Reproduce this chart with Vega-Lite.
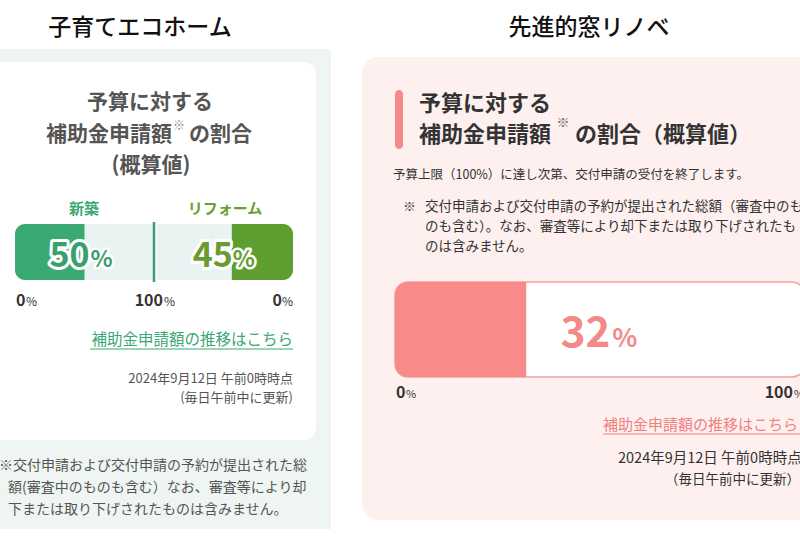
{
  "$schema": "https://vega.github.io/schema/vega-lite/v6.json",
  "width": 800,
  "height": 549,
  "padding": 0,
  "autosize": {"type": "none"},
  "background": "white",
  "config": {"view": {"stroke": null}, "font": "Noto Sans CJK JP", "text": {"font": "Noto Sans CJK JP"}},
  "datasets": {
    "budget": [
      {"program": "子育てエコホーム", "category": "新築", "pct": 50},
      {"program": "子育てエコホーム", "category": "リフォーム", "pct": 45},
      {"program": "先進的窓リノベ", "category": "先進的窓リノベ", "pct": 32}
    ],
    "canvas": [{"layer": "annotations"}]
  },
  "resolve": {"scale": {"x": "independent"}},
  "layer": [
    {
      "data": {"name": "canvas"},
      "layer": [
        {"mark": {"type": "rect", "fill": "#eef5f2"},
         "encoding": {"x": {"datum": 0, "type": "quantitative", "scale": {"domain": [0, 800], "range": [0, 800]}, "axis": null}, "x2": {"datum": 331},
                      "y": {"datum": 49, "type": "quantitative", "scale": {"domain": [0, 549], "range": [0, 549]}, "axis": null}, "y2": {"datum": 529}}},
        {"mark": {"type": "rect", "fill": "white", "cornerRadius": 12},
         "encoding": {"x": {"datum": -14, "type": "quantitative", "scale": {"domain": [0, 800], "range": [0, 800]}, "axis": null}, "x2": {"datum": 316},
                      "y": {"datum": 62, "type": "quantitative", "scale": {"domain": [0, 549], "range": [0, 549]}, "axis": null}, "y2": {"datum": 440}}},
        {"mark": {"type": "rect", "fill": "#fdf0ef", "cornerRadius": 16},
         "encoding": {"x": {"datum": 362, "type": "quantitative", "scale": {"domain": [0, 800], "range": [0, 800]}, "axis": null}, "x2": {"datum": 840},
                      "y": {"datum": 57, "type": "quantitative", "scale": {"domain": [0, 549], "range": [0, 549]}, "axis": null}, "y2": {"datum": 520}}},
        {"mark": {"type": "rect", "fill": "#f58a8a", "cornerRadius": 4},
         "encoding": {"x": {"datum": 395, "type": "quantitative", "scale": {"domain": [0, 800], "range": [0, 800]}, "axis": null}, "x2": {"datum": 403},
                      "y": {"datum": 90, "type": "quantitative", "scale": {"domain": [0, 549], "range": [0, 549]}, "axis": null}, "y2": {"datum": 149}}},
        {"mark": {"type": "text", "fontSize": 23, "fontWeight": 500, "color": "#111", "align": "center", "baseline": "middle"},
         "encoding": {"x": {"datum": 140, "type": "quantitative", "scale": {"domain": [0, 800], "range": [0, 800]}, "axis": null},
                      "y": {"datum": 28, "type": "quantitative", "scale": {"domain": [0, 549], "range": [0, 549]}, "axis": null}, "text": {"value": "子育てエコホーム"}}},
        {"mark": {"type": "text", "fontSize": 23, "fontWeight": 500, "color": "#111", "align": "center", "baseline": "middle"},
         "encoding": {"x": {"datum": 589, "type": "quantitative", "scale": {"domain": [0, 800], "range": [0, 800]}, "axis": null},
                      "y": {"datum": 28, "type": "quantitative", "scale": {"domain": [0, 549], "range": [0, 549]}, "axis": null}, "text": {"value": "先進的窓リノベ"}}},
        {"mark": {"type": "text", "fontSize": 21, "fontWeight": "bold", "color": "#555", "align": "center", "baseline": "middle"},
         "encoding": {"x": {"datum": 150, "type": "quantitative", "scale": {"domain": [0, 800], "range": [0, 800]}, "axis": null},
                      "y": {"datum": 103, "type": "quantitative", "scale": {"domain": [0, 549], "range": [0, 549]}, "axis": null}, "text": {"value": "予算に対する"}}},
        {"mark": {"type": "text", "fontSize": 21, "fontWeight": "bold", "color": "#555", "align": "right", "baseline": "middle"},
         "encoding": {"x": {"datum": 172, "type": "quantitative", "scale": {"domain": [0, 800], "range": [0, 800]}, "axis": null},
                      "y": {"datum": 135, "type": "quantitative", "scale": {"domain": [0, 549], "range": [0, 549]}, "axis": null}, "text": {"value": "補助金申請額"}}},
        {"mark": {"type": "text", "fontSize": 12, "color": "#888", "align": "center", "baseline": "middle"},
         "encoding": {"x": {"datum": 179, "type": "quantitative", "scale": {"domain": [0, 800], "range": [0, 800]}, "axis": null},
                      "y": {"datum": 126, "type": "quantitative", "scale": {"domain": [0, 549], "range": [0, 549]}, "axis": null}, "text": {"value": "※"}}},
        {"mark": {"type": "text", "fontSize": 21, "fontWeight": "bold", "color": "#555", "align": "left", "baseline": "middle"},
         "encoding": {"x": {"datum": 189, "type": "quantitative", "scale": {"domain": [0, 800], "range": [0, 800]}, "axis": null},
                      "y": {"datum": 135, "type": "quantitative", "scale": {"domain": [0, 549], "range": [0, 549]}, "axis": null}, "text": {"value": "の割合"}}},
        {"mark": {"type": "text", "fontSize": 21, "fontWeight": "bold", "color": "#555", "align": "center", "baseline": "middle"},
         "encoding": {"x": {"datum": 151, "type": "quantitative", "scale": {"domain": [0, 800], "range": [0, 800]}, "axis": null},
                      "y": {"datum": 166, "type": "quantitative", "scale": {"domain": [0, 549], "range": [0, 549]}, "axis": null}, "text": {"value": "(概算値)"}}},
        {"mark": {"type": "text", "fontSize": 15, "fontWeight": "bold", "color": "#3aa872", "align": "center", "baseline": "middle"},
         "encoding": {"x": {"datum": 84, "type": "quantitative", "scale": {"domain": [0, 800], "range": [0, 800]}, "axis": null},
                      "y": {"datum": 209, "type": "quantitative", "scale": {"domain": [0, 549], "range": [0, 549]}, "axis": null}, "text": {"value": "新築"}}},
        {"mark": {"type": "text", "fontSize": 15, "fontWeight": "bold", "color": "#6a9e32", "align": "center", "baseline": "middle"},
         "encoding": {"x": {"datum": 225, "type": "quantitative", "scale": {"domain": [0, 800], "range": [0, 800]}, "axis": null},
                      "y": {"datum": 209, "type": "quantitative", "scale": {"domain": [0, 549], "range": [0, 549]}, "axis": null}, "text": {"value": "リフォーム"}}},
        {"mark": {"type": "text", "fontSize": 15.5, "color": "#3aa872", "align": "right", "baseline": "middle"},
         "encoding": {"x": {"datum": 293, "type": "quantitative", "scale": {"domain": [0, 800], "range": [0, 800]}, "axis": null},
                      "y": {"datum": 340, "type": "quantitative", "scale": {"domain": [0, 549], "range": [0, 549]}, "axis": null}, "text": {"value": "補助金申請額の推移はこちら"}}},
        {"mark": {"type": "rule", "color": "#3aa872", "strokeWidth": 1},
         "encoding": {"x": {"datum": 90, "type": "quantitative", "scale": {"domain": [0, 800], "range": [0, 800]}, "axis": null}, "x2": {"datum": 293},
                      "y": {"datum": 349, "type": "quantitative", "scale": {"domain": [0, 549], "range": [0, 549]}, "axis": null}}},
        {"mark": {"type": "text", "fontSize": 13, "color": "#555", "align": "right", "baseline": "middle"},
         "encoding": {"x": {"datum": 293, "type": "quantitative", "scale": {"domain": [0, 800], "range": [0, 800]}, "axis": null},
                      "y": {"datum": 379, "type": "quantitative", "scale": {"domain": [0, 549], "range": [0, 549]}, "axis": null}, "text": {"value": "2024年9月12日 午前0時時点"}}},
        {"mark": {"type": "text", "fontSize": 13, "color": "#555", "align": "right", "baseline": "middle"},
         "encoding": {"x": {"datum": 293, "type": "quantitative", "scale": {"domain": [0, 800], "range": [0, 800]}, "axis": null},
                      "y": {"datum": 398, "type": "quantitative", "scale": {"domain": [0, 549], "range": [0, 549]}, "axis": null}, "text": {"value": "(毎日午前中に更新)"}}},
        {"mark": {"type": "text", "fontSize": 14, "color": "#555", "align": "left", "baseline": "middle"},
         "encoding": {"x": {"datum": -1, "type": "quantitative", "scale": {"domain": [0, 800], "range": [0, 800]}, "axis": null},
                      "y": {"datum": 466, "type": "quantitative", "scale": {"domain": [0, 549], "range": [0, 549]}, "axis": null}, "text": {"value": "※交付申請および交付申請の予約が提出された総"}}},
        {"mark": {"type": "text", "fontSize": 14, "color": "#555", "align": "left", "baseline": "middle"},
         "encoding": {"x": {"datum": 8, "type": "quantitative", "scale": {"domain": [0, 800], "range": [0, 800]}, "axis": null},
                      "y": {"datum": 488, "type": "quantitative", "scale": {"domain": [0, 549], "range": [0, 549]}, "axis": null}, "text": {"value": "額(審査中のものも含む）なお、審査等により却"}}},
        {"mark": {"type": "text", "fontSize": 14, "color": "#555", "align": "left", "baseline": "middle"},
         "encoding": {"x": {"datum": 8, "type": "quantitative", "scale": {"domain": [0, 800], "range": [0, 800]}, "axis": null},
                      "y": {"datum": 510, "type": "quantitative", "scale": {"domain": [0, 549], "range": [0, 549]}, "axis": null}, "text": {"value": "下または取り下げされたものは含みません。"}}},
        {"mark": {"type": "text", "fontSize": 22, "fontWeight": "bold", "color": "#333", "align": "left", "baseline": "middle"},
         "encoding": {"x": {"datum": 419, "type": "quantitative", "scale": {"domain": [0, 800], "range": [0, 800]}, "axis": null},
                      "y": {"datum": 104, "type": "quantitative", "scale": {"domain": [0, 549], "range": [0, 549]}, "axis": null}, "text": {"value": "予算に対する"}}},
        {"mark": {"type": "text", "fontSize": 22, "fontWeight": "bold", "color": "#333", "align": "left", "baseline": "middle"},
         "encoding": {"x": {"datum": 419, "type": "quantitative", "scale": {"domain": [0, 800], "range": [0, 800]}, "axis": null},
                      "y": {"datum": 135, "type": "quantitative", "scale": {"domain": [0, 549], "range": [0, 549]}, "axis": null}, "text": {"value": "補助金申請額"}}},
        {"mark": {"type": "text", "fontSize": 13, "color": "#666", "align": "center", "baseline": "middle"},
         "encoding": {"x": {"datum": 563, "type": "quantitative", "scale": {"domain": [0, 800], "range": [0, 800]}, "axis": null},
                      "y": {"datum": 123, "type": "quantitative", "scale": {"domain": [0, 549], "range": [0, 549]}, "axis": null}, "text": {"value": "※"}}},
        {"mark": {"type": "text", "fontSize": 22, "fontWeight": "bold", "color": "#333", "align": "left", "baseline": "middle"},
         "encoding": {"x": {"datum": 575, "type": "quantitative", "scale": {"domain": [0, 800], "range": [0, 800]}, "axis": null},
                      "y": {"datum": 135, "type": "quantitative", "scale": {"domain": [0, 549], "range": [0, 549]}, "axis": null}, "text": {"value": "の割合（概算値）"}}},
        {"mark": {"type": "text", "fontSize": 12.5, "color": "#333", "align": "left", "baseline": "middle"},
         "encoding": {"x": {"datum": 393, "type": "quantitative", "scale": {"domain": [0, 800], "range": [0, 800]}, "axis": null},
                      "y": {"datum": 175, "type": "quantitative", "scale": {"domain": [0, 549], "range": [0, 549]}, "axis": null}, "text": {"value": "予算上限（100%）に達し次第、交付申請の受付を終了します。"}}},
        {"mark": {"type": "text", "fontSize": 13, "color": "#444", "align": "left", "baseline": "middle"},
         "encoding": {"x": {"datum": 403, "type": "quantitative", "scale": {"domain": [0, 800], "range": [0, 800]}, "axis": null},
                      "y": {"datum": 207, "type": "quantitative", "scale": {"domain": [0, 549], "range": [0, 549]}, "axis": null}, "text": {"value": "※"}}},
        {"mark": {"type": "text", "fontSize": 13.5, "color": "#333", "align": "left", "baseline": "middle"},
         "encoding": {"x": {"datum": 425, "type": "quantitative", "scale": {"domain": [0, 800], "range": [0, 800]}, "axis": null},
                      "y": {"datum": 207, "type": "quantitative", "scale": {"domain": [0, 549], "range": [0, 549]}, "axis": null}, "text": {"value": "交付申請および交付申請の予約が提出された総額（審査中のも"}}},
        {"mark": {"type": "text", "fontSize": 13.5, "color": "#333", "align": "left", "baseline": "middle"},
         "encoding": {"x": {"datum": 425, "type": "quantitative", "scale": {"domain": [0, 800], "range": [0, 800]}, "axis": null},
                      "y": {"datum": 227, "type": "quantitative", "scale": {"domain": [0, 549], "range": [0, 549]}, "axis": null}, "text": {"value": "のも含む）。なお、審査等により却下または取り下げされたも"}}},
        {"mark": {"type": "text", "fontSize": 13.5, "color": "#333", "align": "left", "baseline": "middle"},
         "encoding": {"x": {"datum": 425, "type": "quantitative", "scale": {"domain": [0, 800], "range": [0, 800]}, "axis": null},
                      "y": {"datum": 247, "type": "quantitative", "scale": {"domain": [0, 549], "range": [0, 549]}, "axis": null}, "text": {"value": "のは含みません。"}}},
        {"mark": {"type": "text", "fontSize": 15, "color": "#f08080", "align": "left", "baseline": "middle"},
         "encoding": {"x": {"datum": 603, "type": "quantitative", "scale": {"domain": [0, 800], "range": [0, 800]}, "axis": null},
                      "y": {"datum": 425, "type": "quantitative", "scale": {"domain": [0, 549], "range": [0, 549]}, "axis": null}, "text": {"value": "補助金申請額の推移はこちら"}}},
        {"mark": {"type": "rule", "color": "#f08080", "strokeWidth": 1},
         "encoding": {"x": {"datum": 603, "type": "quantitative", "scale": {"domain": [0, 800], "range": [0, 800]}, "axis": null}, "x2": {"datum": 820},
                      "y": {"datum": 434, "type": "quantitative", "scale": {"domain": [0, 549], "range": [0, 549]}, "axis": null}}},
        {"mark": {"type": "text", "fontSize": 14.5, "color": "#333", "align": "left", "baseline": "middle"},
         "encoding": {"x": {"datum": 618, "type": "quantitative", "scale": {"domain": [0, 800], "range": [0, 800]}, "axis": null},
                      "y": {"datum": 459, "type": "quantitative", "scale": {"domain": [0, 549], "range": [0, 549]}, "axis": null}, "text": {"value": "2024年9月12日 午前0時時点"}}},
        {"mark": {"type": "text", "fontSize": 13.5, "color": "#333", "align": "right", "baseline": "middle"},
         "encoding": {"x": {"datum": 800, "type": "quantitative", "scale": {"domain": [0, 800], "range": [0, 800]}, "axis": null},
                      "y": {"datum": 480, "type": "quantitative", "scale": {"domain": [0, 549], "range": [0, 549]}, "axis": null}, "text": {"value": "（毎日午前中に更新）"}}}
      ]
    },
    {
      "data": {"name": "budget"},
      "transform": [{"filter": "datum.category === '新築'"}],
      "layer": [
        {"mark": {"type": "rect", "fill": "#e9f4f2", "cornerRadiusTopLeft": 10, "cornerRadiusBottomLeft": 10},
         "encoding": {"x": {"datum": 0, "type": "quantitative", "scale": {"domain": [0, 100], "range": [15, 154]}, "axis": null}, "x2": {"datum": 100},
                      "y": {"datum": 224, "type": "quantitative", "scale": {"domain": [0, 549], "range": [0, 549]}, "axis": null}, "y2": {"datum": 280}}},
        {"mark": {"type": "rect", "fill": "#3aaa72", "cornerRadiusTopLeft": 10, "cornerRadiusBottomLeft": 10},
         "encoding": {"x": {"field": "pct", "type": "quantitative", "scale": {"domain": [0, 100], "range": [15, 154]}, "axis": null}, "x2": {"datum": 0},
                      "y": {"datum": 224, "type": "quantitative", "scale": {"domain": [0, 549], "range": [0, 549]}, "axis": null}, "y2": {"datum": 280}}},
        {"mark": {"type": "rule", "color": "#3a9e72", "strokeWidth": 2.5},
         "encoding": {"x": {"datum": 100, "type": "quantitative", "scale": {"domain": [0, 100], "range": [15, 154]}, "axis": null},
                      "y": {"datum": 222, "type": "quantitative", "scale": {"domain": [0, 549], "range": [0, 549]}, "axis": null}, "y2": {"datum": 282}}},
        {"mark": {"type": "text", "fontSize": 34, "fontWeight": "bold", "color": "white", "stroke": "white", "strokeWidth": 6, "strokeJoin": "round", "align": "right", "baseline": "alphabetic", "dx": 5},
         "encoding": {"x": {"field": "pct", "type": "quantitative", "scale": {"domain": [0, 100], "range": [15, 154]}, "axis": null},
                      "y": {"datum": 267, "type": "quantitative", "scale": {"domain": [0, 549], "range": [0, 549]}, "axis": null}, "text": {"field": "pct", "type": "quantitative"}}},
        {"mark": {"type": "text", "fontSize": 34, "fontWeight": "bold", "color": "#3a9e6e", "align": "right", "baseline": "alphabetic", "dx": 5},
         "encoding": {"x": {"field": "pct", "type": "quantitative", "scale": {"domain": [0, 100], "range": [15, 154]}, "axis": null},
                      "y": {"datum": 267, "type": "quantitative", "scale": {"domain": [0, 549], "range": [0, 549]}, "axis": null}, "text": {"field": "pct", "type": "quantitative"}}},
        {"mark": {"type": "text", "fontSize": 23, "fontWeight": "bold", "color": "white", "stroke": "white", "strokeWidth": 5, "strokeJoin": "round", "align": "left", "baseline": "alphabetic", "dx": 6},
         "encoding": {"x": {"field": "pct", "type": "quantitative", "scale": {"domain": [0, 100], "range": [15, 154]}, "axis": null},
                      "y": {"datum": 267, "type": "quantitative", "scale": {"domain": [0, 549], "range": [0, 549]}, "axis": null}, "text": {"value": "%"}}},
        {"mark": {"type": "text", "fontSize": 23, "fontWeight": "bold", "color": "#3a9e6e", "align": "left", "baseline": "alphabetic", "dx": 6},
         "encoding": {"x": {"field": "pct", "type": "quantitative", "scale": {"domain": [0, 100], "range": [15, 154]}, "axis": null},
                      "y": {"datum": 267, "type": "quantitative", "scale": {"domain": [0, 549], "range": [0, 549]}, "axis": null}, "text": {"value": "%"}}},
        {"mark": {"type": "text", "fontSize": 16, "fontWeight": "bold", "color": "#333", "align": "left", "baseline": "alphabetic", "dx": 1},
         "encoding": {"x": {"datum": 0, "type": "quantitative", "scale": {"domain": [0, 100], "range": [15, 154]}, "axis": null},
                      "y": {"datum": 306, "type": "quantitative", "scale": {"domain": [0, 549], "range": [0, 549]}, "axis": null}, "text": {"value": "0"}}},
        {"mark": {"type": "text", "fontSize": 12, "color": "#333", "align": "left", "baseline": "alphabetic", "dx": 11},
         "encoding": {"x": {"datum": 0, "type": "quantitative", "scale": {"domain": [0, 100], "range": [15, 154]}, "axis": null},
                      "y": {"datum": 306, "type": "quantitative", "scale": {"domain": [0, 549], "range": [0, 549]}, "axis": null}, "text": {"value": "%"}}},
        {"mark": {"type": "text", "fontSize": 16, "fontWeight": "bold", "color": "#333", "align": "right", "baseline": "alphabetic", "dx": 9},
         "encoding": {"x": {"datum": 100, "type": "quantitative", "scale": {"domain": [0, 100], "range": [15, 154]}, "axis": null},
                      "y": {"datum": 306, "type": "quantitative", "scale": {"domain": [0, 549], "range": [0, 549]}, "axis": null}, "text": {"value": "100"}}},
        {"mark": {"type": "text", "fontSize": 12, "color": "#333", "align": "left", "baseline": "alphabetic", "dx": 10},
         "encoding": {"x": {"datum": 100, "type": "quantitative", "scale": {"domain": [0, 100], "range": [15, 154]}, "axis": null},
                      "y": {"datum": 306, "type": "quantitative", "scale": {"domain": [0, 549], "range": [0, 549]}, "axis": null}, "text": {"value": "%"}}}
      ]
    },
    {
      "data": {"name": "budget"},
      "transform": [{"filter": "datum.category === 'リフォーム'"}],
      "layer": [
        {"mark": {"type": "rect", "fill": "#e9f4f2", "cornerRadiusTopRight": 10, "cornerRadiusBottomRight": 10},
         "encoding": {"x": {"datum": 0, "type": "quantitative", "scale": {"domain": [0, 100], "range": [293, 157]}, "axis": null}, "x2": {"datum": 100},
                      "y": {"datum": 224, "type": "quantitative", "scale": {"domain": [0, 549], "range": [0, 549]}, "axis": null}, "y2": {"datum": 280}}},
        {"mark": {"type": "rect", "fill": "#5e9e30", "cornerRadiusTopRight": 10, "cornerRadiusBottomRight": 10},
         "encoding": {"x": {"field": "pct", "type": "quantitative", "scale": {"domain": [0, 100], "range": [293, 157]}, "axis": null}, "x2": {"datum": 0},
                      "y": {"datum": 224, "type": "quantitative", "scale": {"domain": [0, 549], "range": [0, 549]}, "axis": null}, "y2": {"datum": 280}}},
        {"mark": {"type": "text", "fontSize": 34, "fontWeight": "bold", "color": "white", "stroke": "white", "strokeWidth": 6, "strokeJoin": "round", "align": "right", "baseline": "alphabetic", "dx": 1},
         "encoding": {"x": {"field": "pct", "type": "quantitative", "scale": {"domain": [0, 100], "range": [293, 157]}, "axis": null},
                      "y": {"datum": 267, "type": "quantitative", "scale": {"domain": [0, 549], "range": [0, 549]}, "axis": null}, "text": {"field": "pct", "type": "quantitative"}}},
        {"mark": {"type": "text", "fontSize": 34, "fontWeight": "bold", "color": "#6a9a32", "align": "right", "baseline": "alphabetic", "dx": 1},
         "encoding": {"x": {"field": "pct", "type": "quantitative", "scale": {"domain": [0, 100], "range": [293, 157]}, "axis": null},
                      "y": {"datum": 267, "type": "quantitative", "scale": {"domain": [0, 549], "range": [0, 549]}, "axis": null}, "text": {"field": "pct", "type": "quantitative"}}},
        {"mark": {"type": "text", "fontSize": 23, "fontWeight": "bold", "color": "white", "stroke": "white", "strokeWidth": 5, "strokeJoin": "round", "align": "left", "baseline": "alphabetic", "dx": 1},
         "encoding": {"x": {"field": "pct", "type": "quantitative", "scale": {"domain": [0, 100], "range": [293, 157]}, "axis": null},
                      "y": {"datum": 267, "type": "quantitative", "scale": {"domain": [0, 549], "range": [0, 549]}, "axis": null}, "text": {"value": "%"}}},
        {"mark": {"type": "text", "fontSize": 23, "fontWeight": "bold", "color": "#6a9a32", "align": "left", "baseline": "alphabetic", "dx": 1},
         "encoding": {"x": {"field": "pct", "type": "quantitative", "scale": {"domain": [0, 100], "range": [293, 157]}, "axis": null},
                      "y": {"datum": 267, "type": "quantitative", "scale": {"domain": [0, 549], "range": [0, 549]}, "axis": null}, "text": {"value": "%"}}},
        {"mark": {"type": "text", "fontSize": 16, "fontWeight": "bold", "color": "#333", "align": "right", "baseline": "alphabetic", "dx": -11},
         "encoding": {"x": {"datum": 0, "type": "quantitative", "scale": {"domain": [0, 100], "range": [293, 157]}, "axis": null},
                      "y": {"datum": 306, "type": "quantitative", "scale": {"domain": [0, 549], "range": [0, 549]}, "axis": null}, "text": {"value": "0"}}},
        {"mark": {"type": "text", "fontSize": 12, "color": "#333", "align": "right", "baseline": "alphabetic", "dx": 0},
         "encoding": {"x": {"datum": 0, "type": "quantitative", "scale": {"domain": [0, 100], "range": [293, 157]}, "axis": null},
                      "y": {"datum": 306, "type": "quantitative", "scale": {"domain": [0, 549], "range": [0, 549]}, "axis": null}, "text": {"value": "%"}}}
      ]
    },
    {
      "data": {"name": "budget"},
      "transform": [{"filter": "datum.category === '先進的窓リノベ'"}],
      "layer": [
        {"mark": {"type": "rect", "fill": "white", "stroke": "#f4a0a0", "strokeWidth": 1.5, "cornerRadius": 13},
         "encoding": {"x": {"datum": 0, "type": "quantitative", "scale": {"domain": [0, 100], "range": [395, 805]}, "axis": null}, "x2": {"datum": 100},
                      "y": {"datum": 282, "type": "quantitative", "scale": {"domain": [0, 549], "range": [0, 549]}, "axis": null}, "y2": {"datum": 377}}},
        {"mark": {"type": "rect", "fill": "#f98a8a", "cornerRadiusTopLeft": 13, "cornerRadiusBottomLeft": 13},
         "encoding": {"x": {"field": "pct", "type": "quantitative", "scale": {"domain": [0, 100], "range": [395, 805]}, "axis": null}, "x2": {"datum": 0},
                      "y": {"datum": 282, "type": "quantitative", "scale": {"domain": [0, 549], "range": [0, 549]}, "axis": null}, "y2": {"datum": 377}}},
        {"mark": {"type": "text", "fontSize": 42, "fontWeight": "bold", "color": "#f38a8a", "align": "right", "baseline": "alphabetic"},
         "encoding": {"x": {"datum": 52.5, "type": "quantitative", "scale": {"domain": [0, 100], "range": [395, 805]}, "axis": null},
                      "y": {"datum": 347, "type": "quantitative", "scale": {"domain": [0, 549], "range": [0, 549]}, "axis": null}, "text": {"field": "pct", "type": "quantitative"}}},
        {"mark": {"type": "text", "fontSize": 26, "fontWeight": "bold", "color": "#f38a8a", "align": "left", "baseline": "alphabetic", "dx": 2},
         "encoding": {"x": {"datum": 52.5, "type": "quantitative", "scale": {"domain": [0, 100], "range": [395, 805]}, "axis": null},
                      "y": {"datum": 347, "type": "quantitative", "scale": {"domain": [0, 549], "range": [0, 549]}, "axis": null}, "text": {"value": "%"}}},
        {"mark": {"type": "text", "fontSize": 16, "fontWeight": "bold", "color": "#333", "align": "left", "baseline": "alphabetic", "dx": 1},
         "encoding": {"x": {"datum": 0, "type": "quantitative", "scale": {"domain": [0, 100], "range": [395, 805]}, "axis": null},
                      "y": {"datum": 398, "type": "quantitative", "scale": {"domain": [0, 549], "range": [0, 549]}, "axis": null}, "text": {"value": "0"}}},
        {"mark": {"type": "text", "fontSize": 11, "color": "#333", "align": "left", "baseline": "alphabetic", "dx": 11},
         "encoding": {"x": {"datum": 0, "type": "quantitative", "scale": {"domain": [0, 100], "range": [395, 805]}, "axis": null},
                      "y": {"datum": 398, "type": "quantitative", "scale": {"domain": [0, 549], "range": [0, 549]}, "axis": null}, "text": {"value": "%"}}},
        {"mark": {"type": "text", "fontSize": 16, "fontWeight": "bold", "color": "#333", "align": "right", "baseline": "alphabetic", "dx": -12},
         "encoding": {"x": {"datum": 100, "type": "quantitative", "scale": {"domain": [0, 100], "range": [395, 805]}, "axis": null},
                      "y": {"datum": 398, "type": "quantitative", "scale": {"domain": [0, 549], "range": [0, 549]}, "axis": null}, "text": {"value": "100"}}},
        {"mark": {"type": "text", "fontSize": 11, "color": "#333", "align": "left", "baseline": "alphabetic", "dx": -11},
         "encoding": {"x": {"datum": 100, "type": "quantitative", "scale": {"domain": [0, 100], "range": [395, 805]}, "axis": null},
                      "y": {"datum": 398, "type": "quantitative", "scale": {"domain": [0, 549], "range": [0, 549]}, "axis": null}, "text": {"value": "%"}}}
      ]
    }
  ]
}
